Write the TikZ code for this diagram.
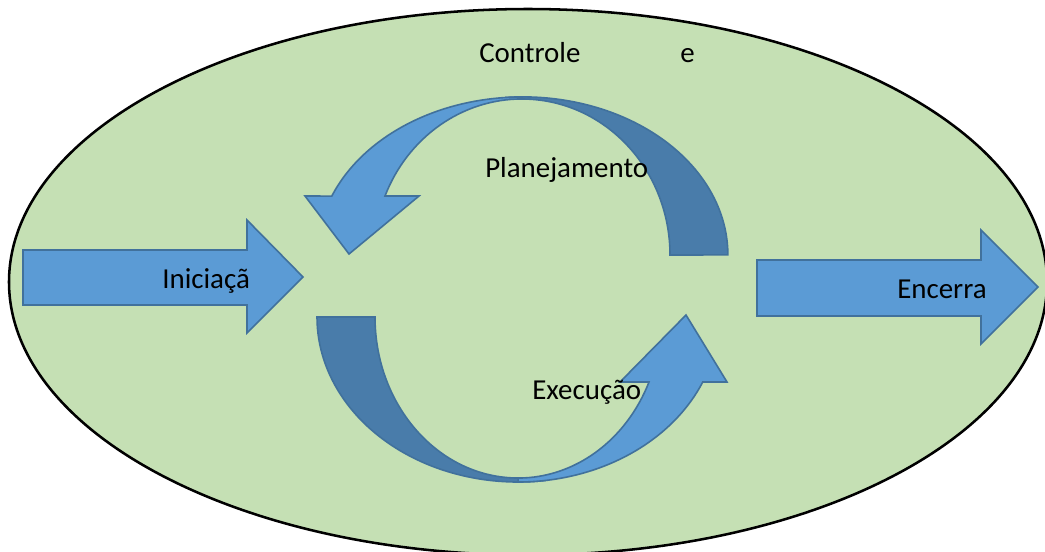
\documentclass[tikz,border=0pt]{standalone}
\usepackage{fontspec}
\setmainfont{Carlito}
\definecolor{fieldgreen}{HTML}{C5E0B4}
\definecolor{arrowblue}{HTML}{5B9BD5}
\definecolor{arrowback}{HTML}{497CAA}
\definecolor{arrowedge}{HTML}{41719C}
\begin{document}
\begin{tikzpicture}[x=0.75pt,y=-0.75pt,
  field/.style={fill=fieldgreen,draw=black,line width=1.9pt},
  front/.style={fill=arrowblue,draw=arrowedge,line width=1.2pt,line join=miter},
  back/.style={fill=arrowback,draw=arrowedge,line width=1.2pt,line join=miter},
  label/.style={inner sep=0pt,anchor=base west,font=\fontsize{21.7}{26}\selectfont,text=black}]
\useasboundingbox (0,0) rectangle (1045,551);
\clip (0,0) rectangle (1045,551);

% background oval
\draw[field] (528,282) ellipse [x radius=519, y radius=273];

% straight arrows
\draw[front] (23,250) -- (247,250) -- (247,220) -- (303,277) -- (247,333) -- (247,305) -- (23,305) -- cycle;
\draw[front] (757,260) -- (981,260) -- (981,230) -- (1038,287) -- (981,344) -- (981,316) -- (757,316) -- cycle;

% upper curved arrow: shaded back half, then front half with head
\draw[back] (505,97.5) arc[start angle=-95, end angle=0, x radius=205, y radius=158]
  -- (670,255) arc[start angle=0, end angle=-90, x radius=148, y radius=156] -- cycle;
\draw[front] (522,97) arc[start angle=270, end angle=201.9, x radius=205, y radius=158]
  -- (305,196) -- (349,254) -- (419,196) -- (385,196)
  arc[start angle=202.2, end angle=270, x radius=148, y radius=156] -- cycle;

% lower curved arrow
\draw[back] (317,317) arc[start angle=180, end angle=82, x radius=201, y radius=165]
  -- (518,478) arc[start angle=90, end angle=180, x radius=143, y radius=161] -- cycle;
\draw[front] (518,482) arc[start angle=90, end angle=23.2, x radius=201, y radius=165]
  -- (727,382) -- (686,315) -- (620,382) -- (649,382)
  arc[start angle=23.8, end angle=90, x radius=143, y radius=161] -- cycle;

% labels
\node[label] (controle) at (479,62) {Controle};
\node[label] (e) at (680,62) {e};
\node[label] (planejamento) at (485,177) {Planejamento};
\node[label] (execucao) at (532,399) {Execução};
\node[label] (iniciacao) at (162,288) {Iniciaçã};
\node[label] (encerra) at (897,298) {Encerra};
\end{tikzpicture}
\end{document}
